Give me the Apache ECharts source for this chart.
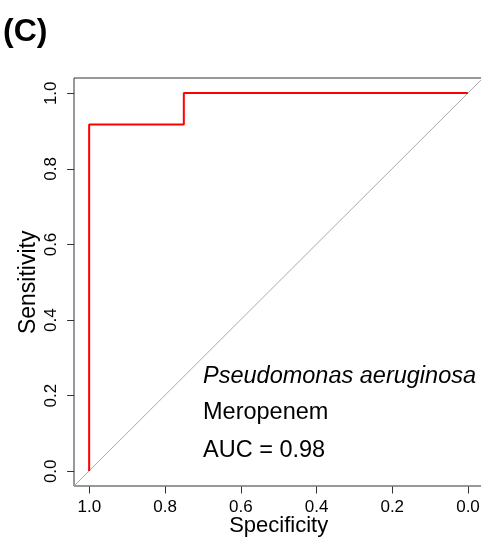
<!DOCTYPE html>
<html>
<head>
<meta charset="utf-8">
<script src="https://cdn.jsdelivr.net/npm/echarts@6/dist/echarts.min.js"></script>
<style>
  html, body { margin: 0; padding: 0; background: #fff; }
  #myChart { width: 481px; height: 537px; }
</style>
</head>
<body>
<div id="myChart"></div>
<script>
// ROC curve (specificity, sensitivity)
const rocSpecificity = [1.0, 1.0, 0.75, 0.75, 0.0];
const rocSensitivity = [0.0, 0.917, 0.917, 1.0, 1.0];
// reference diagonal
const diagSpecificity = [1.04, -0.04];
const diagSensitivity = [-0.04, 1.04];
// tick range / step
const tickMin = 0;
const tickMax = 1;
const tickStep = 0.2;
const annotations = ['Pseudomonas aeruginosa', 'Meropenem', 'AUC = 0.98'];

const font = 'Liberation Sans, Arial, Helvetica, sans-serif';
const rocData = rocSpecificity.map((s, i) => [s, rocSensitivity[i]]);
const diagData = diagSpecificity.map((s, i) => [s, diagSensitivity[i]]);

let myEchart = echarts.init(document.getElementById('myChart'));
myEchart.setOption({
    animation: false,
    grid: [
        { // plot box, data range extended 4% like R
            left: 74, top: 78, width: 409, height: 408, outerBoundsMode: 'none',
            show: true, borderColor: '#333', borderWidth: 1, backgroundColor: 'transparent'
        },
        { // axes with ticks, 0..1 only
            left: 89.3, top: 93.3, width: 378.7, height: 378, outerBoundsMode: 'none'
        }
    ],
    xAxis: [
        {
            gridIndex: 0, type: 'value', inverse: true, min: -0.04, max: 1.04,
            axisLine: { show: false, onZero: false }, axisTick: { show: false }, axisLabel: { show: false }, splitLine: { show: false }
        },
        {
            gridIndex: 1, type: 'value', inverse: true, min: tickMin, max: tickMax, interval: tickStep, offset: 15.2,
            name: 'Specificity', nameLocation: 'middle', nameGap: 28, nameMoveOverlap: false,
            nameTextStyle: { fontFamily: font, fontSize: 22, color: '#000' },
            axisLine: { show: false, onZero: false },
            splitLine: { show: false },
            axisTick: { show: true, length: 7, lineStyle: { color: '#333' } },
            axisLabel: { margin: 12, fontFamily: font, fontSize: 17, color: '#000', formatter: v => v.toFixed(1) }
        }
    ],
    yAxis: [
        {
            gridIndex: 0, type: 'value', min: -0.04, max: 1.04,
            axisLine: { show: false, onZero: false }, axisTick: { show: false }, axisLabel: { show: false }, splitLine: { show: false }
        },
        {
            gridIndex: 1, type: 'value', min: tickMin, max: tickMax, interval: tickStep, offset: 15.2,
            name: 'Sensitivity', nameLocation: 'middle', nameGap: 34, nameMoveOverlap: false,
            nameTextStyle: { fontFamily: font, fontSize: 23, color: '#000' },
            axisLine: { show: false, onZero: false },
            splitLine: { show: false },
            axisTick: { show: true, length: 7, lineStyle: { color: '#333' } },
            axisLabel: { rotate: 90, margin: 14, fontFamily: font, fontSize: 17, color: '#000', formatter: v => v.toFixed(1) }
        }
    ],
    series: [
        {
            type: 'line', xAxisIndex: 0, yAxisIndex: 0, data: diagData, symbol: 'none', silent: true,
            lineStyle: { color: '#aaaaaa', width: 1 }
        },
        {
            type: 'line', xAxisIndex: 0, yAxisIndex: 0, data: rocData, symbol: 'none',
            lineStyle: { color: '#ff0000', width: 2 }
        }
    ],
    graphic: [
        { type: 'text', left: 3, top: 16, style: { text: '(C)', font: 'bold 32px ' + font, fill: '#000' } },
        { type: 'text', x: 203, y: 376, style: { text: annotations[0], font: 'italic 23.5px ' + font, fill: '#000', verticalAlign: 'middle' } },
        { type: 'text', x: 203, y: 413, style: { text: annotations[1], font: '23.5px ' + font, fill: '#000', verticalAlign: 'middle' } },
        { type: 'text', x: 203, y: 451, style: { text: annotations[2], font: '23.5px ' + font, fill: '#000', verticalAlign: 'middle' } }
    ]
});
window.addEventListener('resize', function () {
    myEchart.resize();
});
</script>
</body>
</html>
